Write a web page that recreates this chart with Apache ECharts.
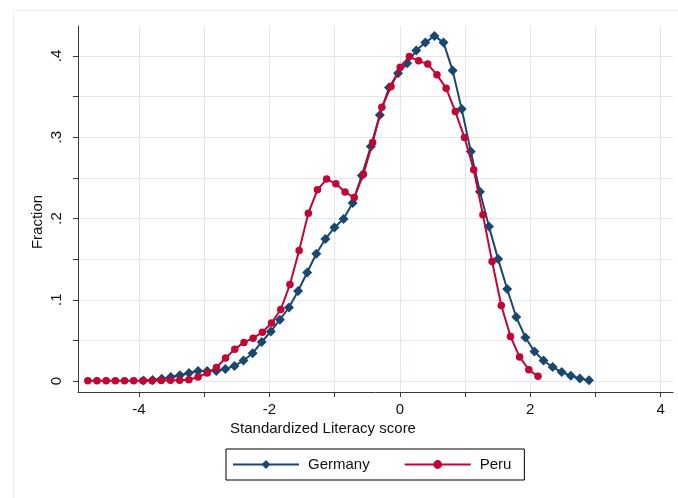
<!DOCTYPE html>
<html>
<head>
<meta charset="utf-8">
<script src="https://cdn.jsdelivr.net/npm/echarts@6/dist/echarts.min.js"></script>
<style>
  html, body { margin: 0; padding: 0; background: #fff; }
  #chart { width: 678px; height: 498px; }
</style>
</head>
<body>
<div id="chart"></div>
<script>
// Histogram bin midpoints (standardized literacy score) and fractions per country
const germanyX = [-3.930, -3.791, -3.651, -3.512, -3.372, -3.233, -3.094, -2.954, -2.815, -2.675,
  -2.536, -2.397, -2.257, -2.118, -1.978, -1.839, -1.700, -1.560, -1.421, -1.281,
  -1.142, -1.003, -0.863, -0.724, -0.584, -0.445, -0.306, -0.166, -0.027, 0.113,
  0.252, 0.391, 0.531, 0.670, 0.810, 0.949, 1.088, 1.228, 1.367, 1.507,
  1.646, 1.785, 1.925, 2.064, 2.204, 2.343, 2.482, 2.622, 2.761, 2.901];
const germanyY = [0.0006, 0.0012, 0.0028, 0.0050, 0.0072, 0.0100, 0.0122, 0.0122, 0.0124, 0.0147,
  0.0186, 0.0252, 0.0342, 0.0480, 0.0610, 0.0754, 0.0905, 0.1107, 0.1336, 0.1566,
  0.1747, 0.1890, 0.1993, 0.2190, 0.2530, 0.2886, 0.3275, 0.3611, 0.3788, 0.3910,
  0.4067, 0.4165, 0.4247, 0.4165, 0.3820, 0.3346, 0.2824, 0.2328, 0.1900, 0.1500,
  0.1132, 0.0787, 0.0536, 0.0364, 0.0253, 0.0172, 0.0110, 0.0065, 0.0032, 0.0008];

const peruX = [-4.785, -4.644, -4.503, -4.362, -4.221, -4.081, -3.940, -3.799, -3.658, -3.517,
  -3.376, -3.235, -3.094, -2.953, -2.812, -2.672, -2.531, -2.390, -2.249, -2.108,
  -1.967, -1.826, -1.685, -1.544, -1.403, -1.263, -1.122, -0.981, -0.840, -0.699,
  -0.558, -0.417, -0.276, -0.135, 0.006, 0.147, 0.288, 0.428, 0.569, 0.710,
  0.851, 0.992, 1.133, 1.274, 1.415, 1.556, 1.697, 1.837, 1.978, 2.119];
const peruY = [0.0004, 0.0004, 0.0004, 0.0004, 0.0003, 0.0003, 0.0004, 0.0004, 0.0005, 0.0008,
  0.0010, 0.0016, 0.0050, 0.0098, 0.0167, 0.0283, 0.0392, 0.0475, 0.0527, 0.0600,
  0.0713, 0.0880, 0.1188, 0.1605, 0.2066, 0.2353, 0.2485, 0.2427, 0.2325, 0.2258,
  0.2546, 0.2935, 0.3370, 0.3624, 0.3862, 0.3993, 0.3940, 0.3900, 0.3768, 0.3604,
  0.3316, 0.2996, 0.2600, 0.2045, 0.1470, 0.0930, 0.0549, 0.0295, 0.0139, 0.0057];

// Axis ticks: gridlines at every tick, labels on the major ones
const xTicks = [-4, -3, -2, -1, 0, 1, 2, 3, 4];
const xLabels = [-4, -2, 0, 2, 4];
const yTicks = [0, 0.05, 0.1, 0.15, 0.2, 0.25, 0.3, 0.35, 0.4];
const yLabels = [0, 0.1, 0.2, 0.3, 0.4];

const seriesNames = ['Germany', 'Peru'];
const xTitle = 'Standardized Literacy score';
const yTitle = 'Fraction';

const FONT = '"Liberation Sans", Arial, sans-serif';
const NAVY = '#1a476f';
const CRANBERRY = '#c10534';
const GRID_COLOR = '#dfe8ed';
const AXIS_COLOR = '#3a3a3a';

const zip = (xs, ys) => xs.map((x, i) => [x, ys[i]]);

const chart = echarts.init(document.getElementById('chart'), null, { renderer: 'canvas' });

chart.setOption({
  animation: false,
  backgroundColor: '#ffffff',
  textStyle: { fontFamily: FONT },
  grid: { left: 78, right: 5, top: 26, bottom: 106, containLabel: false },
  xAxis: {
    type: 'value',
    min: -4.935,
    max: 4.189,
    axisLine: { show: true, onZero: false, lineStyle: { color: AXIS_COLOR, width: 1 } },
    axisTick: { show: true, length: 5, customValues: xTicks, lineStyle: { color: AXIS_COLOR } },
    axisLabel: {
      customValues: xLabels,
      margin: 10,
      color: '#111',
      fontSize: 15,
      fontFamily: FONT,
      formatter: v => String(v)
    },
    splitLine: { show: true, lineStyle: { color: GRID_COLOR, width: 1 } }
  },
  yAxis: {
    type: 'value',
    min: -0.01353,
    max: 0.4369,
    axisLine: { show: true, onZero: false, lineStyle: { color: AXIS_COLOR, width: 1 } },
    axisTick: { show: true, length: 5, customValues: yTicks, lineStyle: { color: AXIS_COLOR } },
    axisLabel: {
      customValues: yLabels,
      rotate: 90,
      margin: 13.5,
      color: '#111',
      fontSize: 15,
      fontFamily: FONT,
      formatter: v => (v === 0 ? '0' : '.' + Math.round(v * 10))
    },
    splitLine: { show: true, lineStyle: { color: GRID_COLOR, width: 1 } }
  },
  legend: {
    left: 226,
    top: 449,
    orient: 'horizontal',
    itemWidth: 66,
    itemHeight: 11,
    itemGap: 34,
    padding: [8, 13, 8, 6],
    borderColor: '#000',
    borderWidth: 1,
    textStyle: { fontSize: 15, color: '#111', fontFamily: FONT, padding: [0, 0, 0, 4] },
    data: seriesNames
  },
  graphic: [
    {
      type: 'rect',
      left: 11, top: 8, silent: true, z: -10,
      shape: { width: 700, height: 520 },
      style: { fill: 'none', stroke: '#e8eef1', lineWidth: 1 }
    },
    {
      type: 'text',
      x: 38, y: 222, rotation: Math.PI / 2,
      style: { text: yTitle, font: '15px ' + FONT, fill: '#111', textAlign: 'center', textVerticalAlign: 'middle' }
    },
    {
      type: 'text',
      x: 323, y: 429,
      style: { text: xTitle, font: '15px ' + FONT, fill: '#111', textAlign: 'center', textVerticalAlign: 'middle' }
    }
  ],
  series: [
    {
      name: seriesNames[0],
      type: 'line',
      data: zip(germanyX, germanyY),
      symbol: 'diamond',
      symbolSize: 10,
      showAllSymbol: true,
      lineStyle: { color: NAVY, width: 2 },
      itemStyle: { color: NAVY, borderWidth: 0 },
      z: 2
    },
    {
      name: seriesNames[1],
      type: 'line',
      data: zip(peruX, peruY),
      symbol: 'circle',
      symbolSize: 7.5,
      showAllSymbol: true,
      lineStyle: { color: CRANBERRY, width: 2 },
      itemStyle: { color: CRANBERRY, borderWidth: 0 },
      z: 3
    }
  ]
});
</script>
</body>
</html>
